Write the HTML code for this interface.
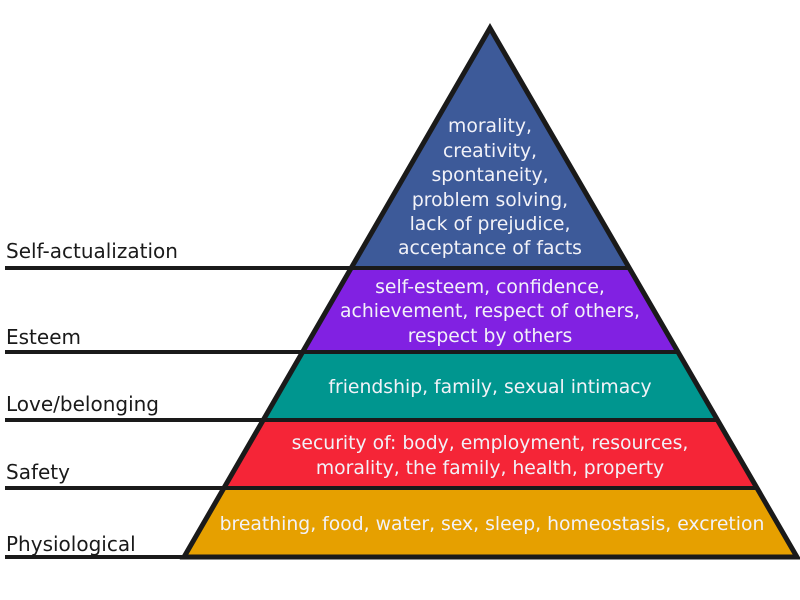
<!DOCTYPE html>
<html><head><meta charset="utf-8"><style>
body{margin:0;background:#fff;width:800px;height:600px;overflow:hidden}
svg{display:block}
text{font-family:"DejaVu Sans","Liberation Sans",sans-serif}
.w{fill:#f2f2f8;font-size:18.8px;text-anchor:middle}
.l{fill:#1a1a1a;font-size:20px}
</style></head><body>
<svg width="800" height="600" viewBox="0 0 800 600">
<polygon points="490,28 351,268 629,268" fill="#3d5a99"/>
<polygon points="351,268 629,268 678,352 302,352" fill="#8121e2"/>
<polygon points="302,352 678,352 717,420 263,420" fill="#00968f"/>
<polygon points="263,420 717,420 757,488 224,488" fill="#f52537"/>
<polygon points="224,488 757,488 797,557 184,557" fill="#e6a000"/>
<g stroke="#1a1a1a" stroke-width="4" fill="none">
<polygon points="490,28 797,557 184,557" stroke-width="5" stroke-linejoin="miter"/>
<line x1="5" y1="268" x2="629" y2="268"/>
<line x1="5" y1="352" x2="678" y2="352"/>
<line x1="5" y1="420" x2="717" y2="420"/>
<line x1="5" y1="488" x2="757" y2="488"/>
<line x1="5" y1="557" x2="186" y2="557"/>
</g>
<text class="l" x="6" y="258">Self-actualization</text>
<text class="l" x="6" y="344">Esteem</text>
<text class="l" x="6" y="411">Love/belonging</text>
<text class="l" x="6" y="479">Safety</text>
<text class="l" x="6" y="551">Physiological</text>
<text class="w" x="490" y="132">morality,</text>
<text class="w" x="490" y="157">creativity,</text>
<text class="w" x="490" y="181">spontaneity,</text>
<text class="w" x="490" y="206">problem solving,</text>
<text class="w" x="490" y="230">lack of prejudice,</text>
<text class="w" x="490" y="254">acceptance of facts</text>
<text class="w" x="490" y="293">self-esteem, confidence,</text>
<text class="w" x="490" y="317">achievement, respect of others,</text>
<text class="w" x="490" y="342">respect by others</text>
<text class="w" x="490" y="393">friendship, family, sexual intimacy</text>
<text class="w" x="490" y="449">security of: body, employment, resources,</text>
<text class="w" x="490" y="474">morality, the family, health, property</text>
<text class="w" x="492" y="530">breathing, food, water, sex, sleep, homeostasis, excretion</text>
</svg>
</body></html>
